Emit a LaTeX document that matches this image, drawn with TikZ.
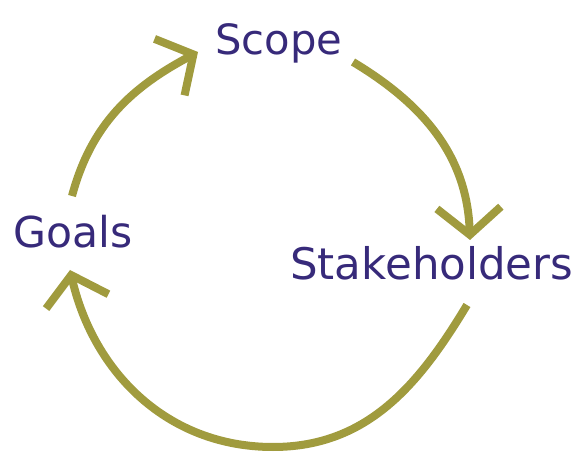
\documentclass[tikz,border=0pt]{standalone}
\usepackage{fontspec}
\setmainfont{DejaVu Sans}
\usetikzlibrary{arrows.meta}
\definecolor{cycleolive}{RGB}{160,155,62}
\definecolor{labelblue}{RGB}{55,42,122}
\begin{document}
\begin{tikzpicture}[x=1pt,y=1pt,
  lbl/.style={text=labelblue, inner sep=0pt, anchor=base west},
  flow/.style={draw=cycleolive, line width=8pt, line join=miter,
    -{Straight Barb[length=27pt,width=64pt]}}]
\useasboundingbox (0,0) rectangle (587,464);
\node[lbl] (goals) at (13,216) {\resizebox{119pt}{!}{Goals}};
\node[lbl] (scope) at (215,409) {\resizebox{127pt}{!}{Scope}};
\node[lbl] (stake) at (290,184) {\resizebox{283pt}{!}{Stakeholders}};
% connector end points
\coordinate (g-out) at (72,268);
\coordinate (s-in) at (198,412);
\coordinate (s-out) at (353,402);
\coordinate (k-in) at (470,224);
\coordinate (k-out) at (467,159);
\coordinate (bottom) at (273,17);
\coordinate (g-in) at (70,194);
\draw[flow] (g-out) to[out=75,in=208] (s-in);
\draw[flow] (s-out) to[out=-31,in=92] (k-in);
\draw[flow] (k-out) to[out=239,in=0] (bottom) to[out=180,in=283] (g-in);
\end{tikzpicture}
\end{document}
